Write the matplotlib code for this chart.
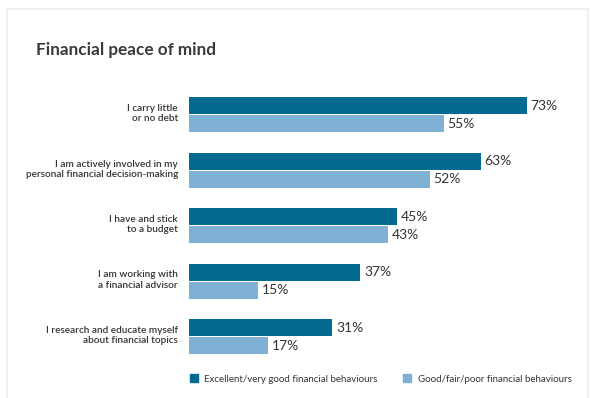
import matplotlib.pyplot as plt
from matplotlib.patches import Patch, Rectangle

# Survey statements and share of respondents agreeing, by behaviour group
statements = [
    "I carry little\nor no debt",
    "I am actively involved in my\npersonal financial decision-making",
    "I have and stick\nto a budget",
    "I am working with\na financial advisor",
    "I research and educate myself\nabout financial topics",
]
excellent = [73, 63, 45, 37, 31]
good_fair_poor = [55, 52, 43, 15, 17]
series_names = ["Excellent/very good financial behaviours",
                "Good/fair/poor financial behaviours"]

dark_blue = "#036b92"
light_blue = "#7fb1d4"
text_color = "#333333"

plt.rcParams["font.family"] = ["Lato", "DejaVu Sans"]

fig = plt.figure(figsize=(5.91, 3.98), dpi=100)
fig.patch.set_facecolor("white")

# faint card outline
fig.patches.append(Rectangle((0.012, -0.01), 0.983, 0.988, transform=fig.transFigure,
                             fill=False, edgecolor="#ececec", linewidth=1.2))

ax = fig.add_axes([189 / 591, 0.0842, (575 - 189) / 591, 0.697])

bar_h = 0.306
offset = 0.162
ypos = list(range(len(statements)))

ax.barh([y - offset for y in ypos], excellent, height=bar_h, color=dark_blue)
ax.barh([y + offset for y in ypos], good_fair_poor, height=bar_h, color=light_blue)

for y, v in zip(ypos, excellent):
    ax.text(v + 0.8, y - offset, f"{v}%", va="center", ha="left",
            fontsize=10, color=text_color)
for y, v in zip(ypos, good_fair_poor):
    ax.text(v + 0.8, y + offset, f"{v}%", va="center", ha="left",
            fontsize=10, color=text_color)

ax.set_xlim(0, 83.4)
ax.set_ylim(len(statements) - 0.5, -0.5)
ax.set_yticks([y - 0.05 for y in ypos])
ax.set_yticklabels(statements, fontsize=7.2, color=text_color, linespacing=1.2,
                   fontweight="semibold")
ax.tick_params(axis="y", length=0, pad=8)
ax.set_xticks([])
for s in ax.spines.values():
    s.set_visible(False)

fig.text(36 / 591, 1 - 50 / 398, "Financial peace of mind", fontsize=12.3,
         fontweight="bold", color="#3a3a3a", va="center", ha="left")

handles = [Patch(color=dark_blue), Patch(color=light_blue)]
fig.legend(handles, series_names, loc="center left", ncol=2,
           bbox_to_anchor=(181 / 591, 1 - 379 / 398), frameon=False,
           fontsize=7.0, handlelength=0.8, handleheight=0.8,
           handletextpad=0.7, columnspacing=2.6, labelcolor=text_color)

fig.savefig("out.png", dpi=100)
